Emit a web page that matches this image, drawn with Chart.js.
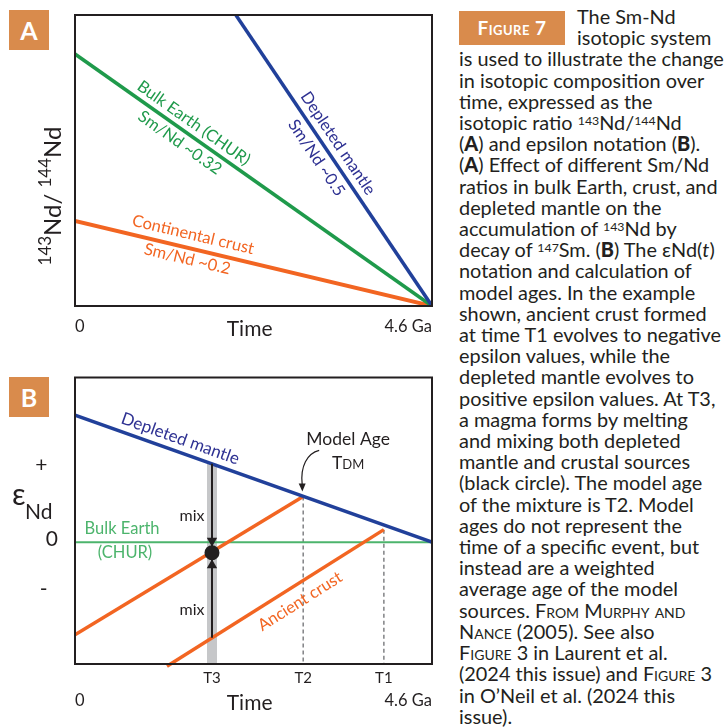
<!DOCTYPE html>
<html>
<head>
<meta charset="utf-8">
<script src="https://cdn.jsdelivr.net/npm/chart.js@4.4.1/dist/chart.umd.min.js"></script>
<style>
  html, body { margin: 0; padding: 0; background: #fff; }
  body { width: 728px; height: 728px; position: relative; overflow: hidden; font-family: Lato, "Open Sans", sans-serif; color: #231f20; }
  .wrap { position: absolute; left: 0; width: 440px; }
  .wrap canvas { display: block; }
  #wrapA { top: 0; height: 350px; }
  #wrapB { top: 370px; height: 358px; }
  .tag { position: absolute; left: 9px; width: 40px; height: 40px; background: #d98b4c; color: #fff;
         font: bold 25px Lato, sans-serif; text-align: center; line-height: 40px; }
  #figTag { position: absolute; left: 459px; top: 11px; width: 106px; height: 34px; background: #d98b4c; color: #fff;
            font: bold 19px Lato, sans-serif; font-variant: small-caps; letter-spacing: 0.5px; text-align: center; line-height: 34px; }
  #caption { position: absolute; left: 459px; top: 6px; font-size: 17.5px; line-height: 21.2px; white-space: nowrap; }
  #caption .ind { padding-left: 118px; }
  #caption sup { font-size: 0.62em; position: relative; top: -0.42em; vertical-align: baseline; line-height: 0; }
  #caption b { font-weight: 900; }
  .sc { font-variant: small-caps; }
</style>
</head>
<body>
<div class="wrap" id="wrapA"><canvas id="chartA" width="440" height="350"></canvas></div>
<div class="wrap" id="wrapB"><canvas id="chartB" width="440" height="358"></canvas></div>
<div class="tag" style="top:10px">A</div>
<div class="tag" style="top:377px">B</div>
<div id="figTag">Figure 7</div>
<div id="caption">
  <div class="ind">The Sm-Nd</div>
  <div class="ind">isotopic system</div>
  <div>is used to illustrate the change</div>
  <div>in isotopic composition over</div>
  <div>time, expressed as the</div>
  <div>isotopic ratio <sup>143</sup>Nd/<sup>144</sup>Nd</div>
  <div>(<b>A</b>) and epsilon notation (<b>B</b>).</div>
  <div>(<b>A</b>) Effect of different Sm/Nd</div>
  <div>ratios in bulk Earth, crust, and</div>
  <div>depleted mantle on the</div>
  <div>accumulation of <sup>143</sup>Nd by</div>
  <div>decay of <sup>147</sup>Sm. (<b>B</b>) The εNd(<i>t</i>)</div>
  <div>notation and calculation of</div>
  <div>model ages. In the example</div>
  <div>shown, ancient crust formed</div>
  <div>at time T1 evolves to negative</div>
  <div>epsilon values, while the</div>
  <div>depleted mantle evolves to</div>
  <div>positive epsilon values. At T3,</div>
  <div>a magma forms by melting</div>
  <div>and mixing both depleted</div>
  <div>mantle and crustal sources</div>
  <div>(black circle). The model age</div>
  <div>of the mixture is T2. Model</div>
  <div>ages do not represent the</div>
  <div>time of a specific event, but</div>
  <div>instead are a weighted</div>
  <div>average age of the model</div>
  <div>sources. <span class="sc">From Murphy and</span></div>
  <div><span class="sc">Nance</span> (2005). See also</div>
  <div><span class="sc">Figure</span> 3 in Laurent et al.</div>
  <div>(2024 this issue) and <span class="sc">Figure</span> 3</div>
  <div>in O’Neil et al. (2024 this</div>
  <div>issue).</div>
</div>
<script>
// --- data (time in Ga, 0 = today ... 4.6 Ga) ---
const timeEnds = [0, 4.6];

// panel A: 143Nd/144Nd in relative units (0 = value at 4.6 Ga, 1 = top of box)
const depletedA = [1.82, 0];
const churA = [0.866, 0];
const crustA = [0.292, 0];

// panel B: epsilon Nd
const depletedB = [3.86, 0];
const churB = [0, 0];
const youngCrustTime = [0, 2.94];
const youngCrustEps = [-2.81, 1.39];
const ancientCrustTime = [1.185, 3.98];
const ancientCrustEps = [-3.77, 0.38];

const modelAgeTicks = [1.765, 2.94, 3.98];
const modelAgeLabels = ['T3', 'T2', 'T1'];
const t3 = modelAgeTicks[0];
const mixBandEps = [2.38, -3.7];
const mixLineEps = [2.38, -2.9];
const mixPointEps = -0.32;
const arrowDownEps = 0.045;
const arrowUpEps = -0.7;

const epsTicks = [2.35, 0.08, -1.43];
const epsLabels = ['+\u2002', '0', '-\u2002'];
const timeTicks = [0, 2.25, 4.6];
const timeLabels = ['0', 'Time', '4.6 Ga'];

// --- colours ---
const INK = '#231f20';
const ORANGE = '#f26522';
const BLUE = '#21409a';
const BLUE_TXT = '#2e3192';
const GREEN_A = '#1f9a4b';
const GREEN_B = '#4cb46c';
const BAND = '#c6c7c9';
const FONT = 'Lato, "Open Sans", sans-serif';

const pts = (xs, ys) => xs.map((x, i) => ({ x, y: ys[i] }));

function lineSet(xs, ys, color, width, extra) {
    return Object.assign({
        data: pts(xs, ys), showLine: true, borderColor: color, backgroundColor: color,
        borderWidth: width, pointRadius: 0, pointHoverRadius: 0, tension: 0
    }, extra || {});
}

// label drawn along a line, centred at data x, shifted perpendicular by `off` px (+ = below)
function alongLine(chart, xs, ys, atX, off, text, color, size) {
    const { ctx, scales } = chart;
    const sx = scales.x, sy = scales.y;
    const x1 = sx.getPixelForValue(xs[0]), y1 = sy.getPixelForValue(ys[0]);
    const x2 = sx.getPixelForValue(xs[1]), y2 = sy.getPixelForValue(ys[1]);
    const ang = Math.atan2(y2 - y1, x2 - x1);
    const t = (atX - xs[0]) / (xs[1] - xs[0]);
    const px = sx.getPixelForValue(atX);
    const py = sy.getPixelForValue(ys[0] + t * (ys[1] - ys[0]));
    ctx.save();
    ctx.translate(px - Math.sin(ang) * off, py + Math.cos(ang) * off);
    ctx.rotate(ang);
    ctx.font = size + 'px ' + FONT;
    ctx.fillStyle = color;
    ctx.textAlign = 'center';
    ctx.textBaseline = 'middle';
    ctx.fillText(text, 0, 0);
    ctx.restore();
}

function plainText(ctx, text, x, y, color, font, align) {
    ctx.save();
    ctx.font = font;
    ctx.fillStyle = color;
    ctx.textAlign = align || 'center';
    ctx.textBaseline = 'middle';
    ctx.fillText(text, x, y);
    ctx.restore();
}

// pieces: [text, fontSize, baselineShift]
function richText(ctx, pieces, cx, cy, vertical) {
    ctx.save();
    ctx.translate(cx, cy);
    if (vertical) ctx.rotate(-Math.PI / 2);
    ctx.fillStyle = INK;
    ctx.textBaseline = 'alphabetic';
    ctx.textAlign = 'left';
    let total = 0;
    const widths = pieces.map(p => { ctx.font = p[1] + 'px ' + FONT; const w = ctx.measureText(p[0]).width; total += w; return w; });
    let x = -total / 2;
    pieces.forEach((p, i) => { ctx.font = p[1] + 'px ' + FONT; ctx.fillText(p[0], x, p[2]); x += widths[i]; });
    ctx.restore();
}

const frame = {
    id: 'frame',
    afterDatasetsDraw(chart) {
        const { ctx, chartArea: a } = chart;
        ctx.save();
        ctx.strokeStyle = INK;
        ctx.lineWidth = 2;
        ctx.strokeRect(a.left, a.top, a.right - a.left, a.bottom - a.top);
        ctx.restore();
    }
};

// keep the plot box where the figure has it: no extra room for edge labels
function fixX(height) {
    return s => { s.height = height; s.paddingLeft = 0; s.paddingRight = 0; };
}

const timeTickFont = ctx => ({ family: FONT, size: ctx.index === 1 ? 21 : 16.5 });

// --- panel A ---
new Chart(document.getElementById('chartA'), {
    type: 'scatter',
    data: {
        datasets: [
            lineSet(timeEnds, depletedA, BLUE, 3.5),
            lineSet(timeEnds, churA, GREEN_A, 3.5),
            lineSet(timeEnds, crustA, ORANGE, 4)
        ]
    },
    options: {
        responsive: false,
        animation: false,
        events: [],
        layout: { padding: { top: 15, right: 8, left: 75, bottom: 0 } },
        plugins: { legend: { display: false }, tooltip: { enabled: false } },
        scales: {
            x: {
                type: 'linear', min: 0, max: 4.6,
                grid: { display: false }, border: { display: false },
                afterBuildTicks: s => { s.ticks = timeTicks.map(v => ({ value: v })); },
                afterFit: fixX(44),
                ticks: {
                    autoSkip: false, maxRotation: 0, align: 'inner', padding: 3, color: INK,
                    font: timeTickFont,
                    callback: (v, i) => timeLabels[i]
                }
            },
            y: { min: 0, max: 1, display: false }
        }
    },
    plugins: [frame, {
        id: 'labelsA',
        afterDatasetsDraw(chart) {
            alongLine(chart, timeEnds, churA, 1.44, -12, 'Bulk Earth (CHUR)', GREEN_A, 16.5);
            alongLine(chart, timeEnds, churA, 1.44, 12, 'Sm/Nd ~0.32', GREEN_A, 16.5);
            alongLine(chart, timeEnds, depletedA, 3.25, -13, 'Depleted mantle', BLUE_TXT, 16.5);
            alongLine(chart, timeEnds, depletedA, 3.25, 13, 'Sm/Nd ~0.5', BLUE_TXT, 16.5);
            alongLine(chart, timeEnds, crustA, 1.48, -14, 'Continental crust', ORANGE, 16.5);
            alongLine(chart, timeEnds, crustA, 1.48, 11, 'Sm/Nd ~0.2', ORANGE, 16.5);
            richText(chart.ctx, [['143', 17, -10], ['Nd/ ', 24, 0], ['144', 17, -10], ['Nd', 24, 0]], 61, 196, true);
        }
    }]
});

// --- panel B ---
new Chart(document.getElementById('chartB'), {
    type: 'scatter',
    data: {
        datasets: [
            { data: [{ x: t3, y: mixPointEps }], pointRadius: 7.5, pointBackgroundColor: INK, pointBorderWidth: 0, order: 1 },
            { data: [{ x: t3, y: arrowDownEps }], pointStyle: 'triangle', rotation: 180, pointRadius: 6, pointBackgroundColor: INK, pointBorderWidth: 0, order: 2 },
            { data: [{ x: t3, y: arrowUpEps }], pointStyle: 'triangle', pointRadius: 6, pointBackgroundColor: INK, pointBorderWidth: 0, order: 2 },
            lineSet([t3, t3], mixLineEps, INK, 2, { order: 3 }),
            lineSet(timeEnds, depletedB, BLUE, 3.5, { order: 4 }),
            lineSet(youngCrustTime, youngCrustEps, ORANGE, 3.5, { order: 5 }),
            lineSet(ancientCrustTime, ancientCrustEps, ORANGE, 3.5, { order: 5, clip: false }),
            lineSet(timeEnds, churB, GREEN_B, 2, { order: 8 }),
            lineSet([modelAgeTicks[1], modelAgeTicks[1]], [youngCrustEps[1], -3.7], '#6d6e71', 1.3, { borderDash: [4, 3], order: 9 }),
            lineSet([modelAgeTicks[2], modelAgeTicks[2]], [ancientCrustEps[1], -3.7], '#6d6e71', 1.3, { borderDash: [4, 3], order: 9 }),
            lineSet([t3, t3], mixBandEps, BAND, 10, { order: 10 })
        ]
    },
    options: {
        responsive: false,
        animation: false,
        events: [],
        layout: { padding: { top: 3, right: 8, left: 0, bottom: 0 } },
        plugins: { legend: { display: false }, tooltip: { enabled: false } },
        scales: {
            x: {
                type: 'linear', min: 0, max: 4.6, position: 'bottom', weight: 0,
                grid: { display: false }, border: { display: false },
                afterBuildTicks: s => { s.ticks = modelAgeTicks.map(v => ({ value: v })); },
                afterFit: fixX(22),
                ticks: {
                    autoSkip: false, maxRotation: 0, padding: -3, color: INK,
                    font: { family: FONT, size: 15 },
                    callback: (v, i) => modelAgeLabels[i]
                }
            },
            x2: {
                type: 'linear', axis: 'x', min: 0, max: 4.6, position: 'bottom', weight: 1,
                grid: { display: false }, border: { display: false },
                afterBuildTicks: s => { s.ticks = timeTicks.map(v => ({ value: v })); },
                afterFit: fixX(42),
                ticks: {
                    autoSkip: false, maxRotation: 0, align: 'inner', padding: -3, color: INK,
                    font: timeTickFont,
                    callback: (v, i) => timeLabels[i]
                }
            },
            y: {
                min: -3.7, max: 5.0,
                grid: { display: false }, border: { display: false },
                afterBuildTicks: s => { s.ticks = epsTicks.map(v => ({ value: v })); },
                afterFit: s => { s.width = 75; s.paddingTop = 0; s.paddingBottom = 0; },
                ticks: {
                    padding: 9, color: INK,
                    font: { family: FONT, size: 21 },
                    callback: (v, i) => epsLabels[i]
                }
            }
        }
    },
    plugins: [frame, {
        id: 'labelsB',
        afterDatasetsDraw(chart) {
            const { ctx, scales } = chart;
            const sx = scales.x, sy = scales.y;
            alongLine(chart, timeEnds, depletedB, 1.30, -13, 'Depleted mantle', BLUE_TXT, 17);
            alongLine(chart, ancientCrustTime, ancientCrustEps, 2.79, 16, 'Ancient crust', ORANGE, 16.5);

            plainText(ctx, 'Bulk Earth', sx.getPixelForValue(0.606), sy.getPixelForValue(0) - 13, GREEN_B, '16.5px ' + FONT);
            plainText(ctx, '(CHUR)', sx.getPixelForValue(0.644), sy.getPixelForValue(0) + 11, GREEN_B, '16.5px ' + FONT);

            const tx = sx.getPixelForValue(t3);
            plainText(ctx, 'mix', tx - 20, sy.getPixelForValue(0.81), INK, '16px ' + FONT);
            plainText(ctx, 'mix', tx - 20, sy.getPixelForValue(-2.06), INK, '16px ' + FONT);

            // model age annotation, placed from the T2 point on the depleted mantle line
            const ax = sx.getPixelForValue(modelAgeTicks[1]);
            const ay = sy.getPixelForValue(youngCrustEps[1]);
            plainText(ctx, 'Model Age', ax + 45, ay - 57, INK, '17.5px ' + FONT);
            richText(ctx, [['T', 17.5, 0], ['DM', 13, 0]], ax + 45, ay - 27, false);
            ctx.save();
            ctx.strokeStyle = INK;
            ctx.fillStyle = INK;
            ctx.lineWidth = 1.2;
            ctx.beginPath();
            ctx.moveTo(ax + 16, ay - 46);
            ctx.bezierCurveTo(ax + 4, ay - 43, ax - 3, ay - 30, ax - 1, ay - 12);
            ctx.stroke();
            ctx.beginPath();
            ctx.moveTo(ax - 4.5, ay - 13);
            ctx.lineTo(ax + 2.5, ay - 13);
            ctx.lineTo(ax - 0.8, ay - 5);
            ctx.closePath();
            ctx.fill();
            ctx.restore();

            // axis title epsilon Nd
            ctx.save();
            ctx.fillStyle = INK;
            ctx.textBaseline = 'alphabetic';
            ctx.font = '30px ' + FONT;
            ctx.fillText('ε', 12, 135);
            ctx.font = '21px ' + FONT;
            ctx.fillText('Nd', 25, 149);
            ctx.restore();
        }
    }]
});

// fit caption font so the long lines span the column like the original
(function fitCaption() {
    const probe = document.createElement('canvas').getContext('2d');
    probe.font = '17px Lato';
    const w = probe.measureText('is used to illustrate the change').width;
    const size = 17 * 265 / w;
    document.getElementById('caption').style.fontSize = size.toFixed(2) + 'px';
})();
</script>
</body>
</html>
